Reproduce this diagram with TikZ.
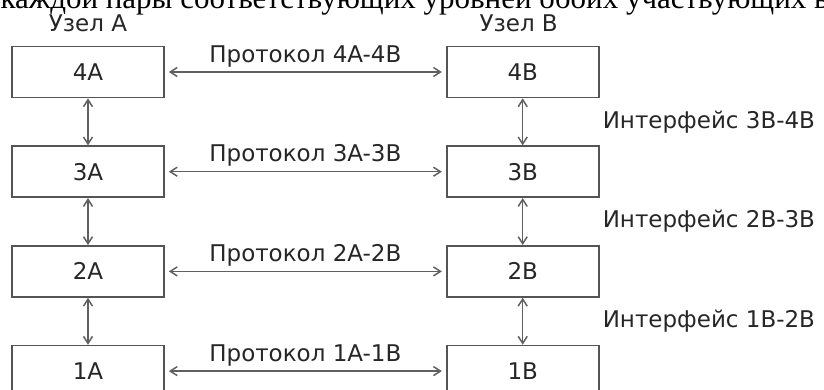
\documentclass[tikz,border=0pt]{standalone}
\usepackage{fontspec}
\usepackage{tikz}
\usetikzlibrary{arrows.meta, positioning}
\newfontfamily\labelfont{DejaVu Sans}
\newfontfamily\bodyfont{Liberation Serif}
\definecolor{boxgray}{HTML}{555555}
\definecolor{linkgray}{HTML}{606060}
\definecolor{inkgray}{HTML}{262626}
\tikzset{
    layer/.style={draw=boxgray, line width=1.7pt,
        minimum width=152pt, minimum height=51pt, text=inkgray},
    link/.style={draw=linkgray, line width=1.5pt,
        {Straight Barb[length=7pt,width=9pt]}-{Straight Barb[length=7pt,width=9pt]}},
    caption/.style={text=inkgray}
}

\begin{document}
\begin{tikzpicture}[font=\labelfont\fontsize{23}{28}\selectfont]
\useasboundingbox (0,0) rectangle (824pt,389pt);
\clip (0,0) rectangle (824pt,389pt);

% line of the text above, cut by the page
\node[anchor=base east, inner sep=0pt, text=black,
    font=\bodyfont\fontsize{31}{36}\selectfont
] (intro) at (829pt,380pt) {каждой пары соответствующих уровней обоих участвующих в};

% node A
\node[layer] (a4) at (88pt,317pt) {4A};
\node[layer, below=47pt of a4] (a3) {3A};
\node[layer, below=47pt of a3] (a2) {2A};
\node[layer, below=47pt of a2] (a1) {1A};
\node[caption, above=10pt of a4] (nodeA) {Узел A};

% node B
\node[layer, right=281pt of a4] (b4) {4B};
\node[layer, below=47pt of b4] (b3) {3B};
\node[layer, below=47pt of b3] (b2) {2B};
\node[layer, below=47pt of b2] (b1) {1B};
\node[caption, above=10pt of b4, xshift=-4pt] (nodeB) {Узел B};

% protocols
\draw[link, shorten <=4pt, shorten >=4pt] (a4) -- (b4) node[caption, midway, above=1pt] (p4) {Протокол 4A-4B};
\draw[link, shorten <=4pt, shorten >=4pt] (a3) -- (b3) node[caption, midway, above=1pt] (p3) {Протокол 3A-3B};
\draw[link, shorten <=4pt, shorten >=4pt] (a2) -- (b2) node[caption, midway, above=1pt] (p2) {Протокол 2A-2B};
\draw[link, shorten <=4pt, shorten >=4pt] (a1) -- (b1) node[caption, midway, above=1pt] (p1) {Протокол 1A-1B};

% interfaces
\draw[link] (a4) -- (a3);
\draw[link] (a3) -- (a2);
\draw[link] (a2) -- (a1);
\draw[link] (b4) -- (b3) node[caption, midway, right=76pt] (i34) {Интерфейс 3B-4B};
\draw[link] (b3) -- (b2) node[caption, midway, right=76pt] (i23) {Интерфейс 2B-3B};
\draw[link] (b2) -- (b1) node[caption, midway, right=76pt] (i12) {Интерфейс 1B-2B};

\end{tikzpicture}
\end{document}
